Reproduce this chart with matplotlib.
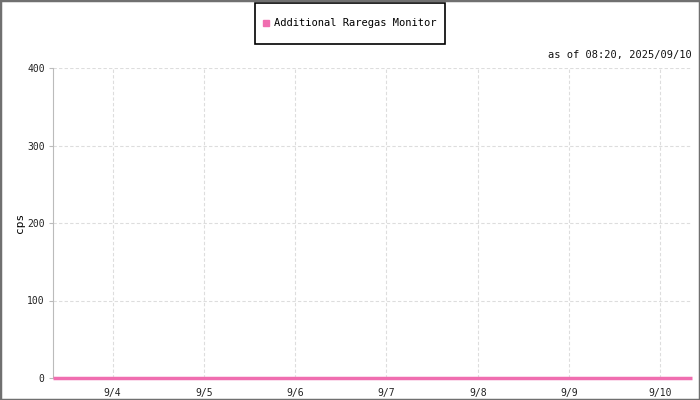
import matplotlib
matplotlib.use('Agg')
import matplotlib.pyplot as plt
import matplotlib.dates as mdates
from matplotlib.patches import Rectangle
import pandas as pd

# series: readings every 6h, all at zero over the week
times = pd.date_range("2025-09-03 08:20", "2025-09-10 08:20", freq="6h")
cps = [0] * len(times)
series_name = "Additional Raregas Monitor"
stamp = "as of 08:20, 2025/09/10"
y_ticks = [0, 100, 200, 300, 400]
pink = "#f06eb0"

plt.rcParams['font.family'] = ['DejaVu Sans Mono']
plt.rcParams['font.size'] = 7

fig = plt.figure(figsize=(7, 4), dpi=100)
ax = fig.add_axes([53 / 700, 22 / 400, 639 / 700, 310 / 400])

ax.plot(times, cps, color=pink, lw=2.5, label=series_name,
        solid_capstyle='butt', clip_on=False, zorder=5)

ax.set_xlim(times[0], times[-1])
ax.set_ylim(0, 400)
ax.set_yticks(y_ticks)
ax.xaxis.set_major_locator(mdates.DayLocator())
ax.xaxis.set_major_formatter(plt.FuncFormatter(
    lambda v, p: f"{mdates.num2date(v).month}/{mdates.num2date(v).day}"))
ax.grid(True, color="#dddddd", ls=(0, (3, 2)), lw=0.8)
ax.set_axisbelow(True)

for s in ["top", "right", "bottom"]:
    ax.spines[s].set_visible(False)
ax.spines["left"].set_color("#bbbbbb")
ax.tick_params(axis="x", length=0, pad=7, colors="#222222")
ax.tick_params(axis="y", length=3, color="#bbbbbb", colors="#222222", pad=3)
ax.set_ylabel("cps", fontsize=8)
ax.yaxis.set_label_coords(-28 / 639, 0.5)

ax.text(1.0, 1.025, stamp, transform=ax.transAxes, ha="right", va="bottom",
        fontsize=7.5, color="#111111")

# legend box drawn in figure pixels, legend itself without frame
fig.patches.append(Rectangle((255 / 700, 1 - 44 / 400), 190 / 700, 41 / 400,
                             transform=fig.transFigure, fill=False,
                             edgecolor="black", lw=1.2))
fig.legend(handles=[plt.Rectangle((0, 0), 1, 1, color=pink)], labels=[series_name],
           loc="center", bbox_to_anchor=(350 / 700, 1 - 23.5 / 400), frameon=False,
           handlelength=0.6, handleheight=0.6, handletextpad=0.5,
           borderaxespad=0, fontsize=7.5)

fig.patches.append(Rectangle((0, 0), 1, 1, transform=fig.transFigure, fill=False,
                             edgecolor="#707070", lw=2.5))

fig.savefig("out.png", dpi=100)
